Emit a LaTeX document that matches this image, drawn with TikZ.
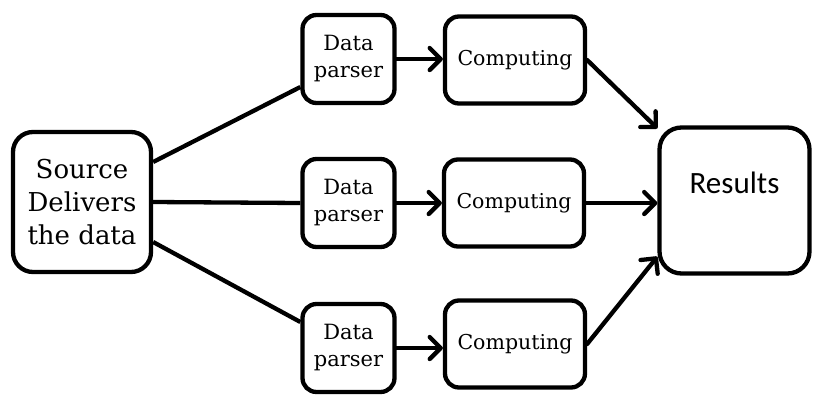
\documentclass[tikz,border=0pt]{standalone}
\usepackage{fontspec}
\setmainfont{DejaVu Serif}
\newfontfamily\resultsfont{Carlito}
\usetikzlibrary{positioning, arrows.meta}

\begin{document}
\begin{tikzpicture}[
    x=1pt, y=-1pt,
    box/.style={rectangle, draw, rounded corners=14pt, line width=4.3pt, align=center, inner sep=0pt},
    source/.style={box, rounded corners=20pt, minimum width=138pt, minimum height=140pt, font=\fontsize{26}{33}\selectfont},
    parser/.style={box, minimum width=92pt, minimum height=88pt, font=\fontsize{21}{27}\selectfont},
    comp/.style={box, minimum width=140pt, minimum height=87pt, font=\fontsize{20.5}{25}\selectfont},
    result/.style={box, rounded corners=22pt, minimum width=150pt, minimum height=146pt, font=\resultsfont\fontsize{31}{36}\selectfont, text depth=36pt},
    link/.style={line width=4.3pt},
    arrow/.style={-{Straight Barb[length=11pt, width=22pt, round]}, line width=4.3pt, line cap=round}
]
\useasboundingbox (0,0) rectangle (818,394);

% Source
\node[source] (src) at (82,202) {Source\\Delivers\\the data};

% Parsers
\node[parser] (p1) at (348.5,59) {Data\\parser};
\node[parser] (p2) at (348.5,203) {Data\\parser};
\node[parser] (p3) at (348.5,348) {Data\\parser};

% Computing
\node[comp] (c1) at (515,60) {Computing};
\node[comp] (c2) at (514,203) {Computing};
\node[comp] (c3) at (515,344) {Computing};

% Results
\node[result] (res) at (734.5,200.5) {Results};

% Source to parsers
\draw[link] ([yshift=40pt]src.east) -- ([yshift=-28pt]p1.west);
\draw[link] (src.east) -- (p2.west);
\draw[link] ([yshift=-40pt]src.east) -- ([yshift=26pt]p3.west);

% Parsers to computing
\draw[arrow] (p1.east) -- (p1.east -| c1.west);
\draw[arrow] (p2.east) -- (p2.east -| c2.west);
\draw[arrow] (p3.east) -- (p3.east -| c3.west);

% Computing to results
\draw[arrow] (c1.east) -- ([yshift=-3pt]res.north west);
\draw[arrow] (c2.east) -- (c2.east -| res.west);
\draw[arrow] (c3.east) -- ([yshift=19pt]res.south west);

\end{tikzpicture}
\end{document}
